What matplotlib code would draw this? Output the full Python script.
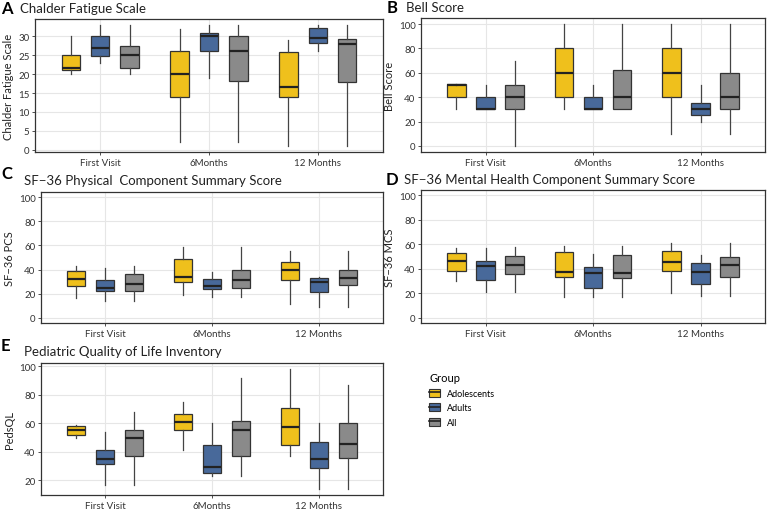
import matplotlib
matplotlib.use("Agg")
import matplotlib.pyplot as plt
from matplotlib.patches import Patch
from matplotlib.lines import Line2D
from matplotlib.legend_handler import HandlerTuple

plt.rcParams['font.family'] = ['Lato', 'DejaVu Sans']

VISITS = ["First Visit", "6Months", "12 Months"]
GROUPS = ["Adolescents", "Adults", "All"]
COLORS = ["#EFC01C", "#48699A", "#8A8A8A"]

# each stat: [group][visit]
A_LO = [[20, 2, 1], [23, 19, 26], [20, 2, 1]]
A_Q1 = [[21, 14, 14], [24.7, 26, 28.2], [21.7, 18.2, 17.8]]
A_MED = [[21.5, 20, 16.5], [27, 30, 29.5], [25, 26, 28]]
A_Q3 = [[25, 26, 25.8], [30, 31, 32.3], [27.5, 30, 29.3]]
A_HI = [[30, 32, 29], [33, 33, 33], [33, 33, 33]]

B_LO = [[30, 30, 10], [30, 30, 20], [0, 30, 10]]
B_Q1 = [[40, 40, 40], [30, 30, 25], [30, 30, 30]]
B_MED = [[50, 60, 60], [30, 30, 30], [40, 40, 40]]
B_Q3 = [[50.5, 80, 80], [40, 40, 35], [50, 62.5, 60]]
B_HI = [[50, 100, 100], [50, 50, 50], [70, 100, 100]]

C_LO = [[16, 19, 11], [14, 17, 9], [14, 17, 9]]
C_Q1 = [[26, 30, 31.5], [22, 24, 21], [22, 25, 27]]
C_MED = [[32, 34, 39.5], [24.5, 26.5, 29.5], [28, 31.5, 33]]
C_Q3 = [[38.5, 49, 46], [31, 32, 33], [36, 39.5, 39.5]]
C_HI = [[43, 59, 55], [41, 38, 34], [43, 59, 55]]

D_LO = [[30, 17, 20], [21, 17, 18], [21, 17, 18]]
D_Q1 = [[38.5, 33.5, 38.5], [31, 24.5, 27.5], [36, 32, 33.5]]
D_MED = [[46, 37, 45.5], [42, 36.5, 37], [43, 36.5, 43]]
D_Q3 = [[52.5, 54, 54.5], [46, 41.5, 45], [50.5, 51, 50]]
D_HI = [[57, 59, 61], [57, 52, 51], [58, 59, 61]]

E_LO = [[50, 41, 37], [17, 23, 14], [17, 23, 14]]
E_Q1 = [[52, 55, 45], [31.5, 25, 29], [37, 37, 36]]
E_MED = [[55.5, 61, 57.5], [35, 29.5, 35], [50, 55, 45.5]]
E_Q3 = [[58, 66.5, 70.5], [41, 44.5, 47], [55.5, 61.5, 60.5]]
E_HI = [[58.5, 75, 98], [54, 60, 60], [68, 92, 87]]

W, H = 770, 510
fig = plt.figure(figsize=(7.7, 5.1), dpi=100)


def add_ax(l, t, r, b):
    return fig.add_axes([l / W, 1 - b / H, (r - l) / W, (b - t) / H])


def panel(ax, lo, q1, med, q3, hi, ylim, yticks, ylabel):
    for g in range(3):
        stats = []
        for v in range(3):
            stats.append(dict(whislo=lo[g][v], q1=q1[g][v], med=med[g][v],
                              q3=q3[g][v], whishi=hi[g][v], fliers=[]))
        pos = [v + 1 + (g - 1) * 0.27 for v in range(3)]
        ax.bxp(stats, positions=pos, widths=0.17, showcaps=False,
               showfliers=False, patch_artist=True,
               boxprops=dict(facecolor=COLORS[g], edgecolor="#333333", linewidth=0.9),
               medianprops=dict(color="#222222", linewidth=1.6),
               whiskerprops=dict(color="#444444", linewidth=0.9))
    ax.set_xlim(0.4, 3.6)
    ax.set_ylim(*ylim)
    ax.set_xticks([1, 2, 3])
    ax.set_xticklabels(VISITS)
    ax.set_yticks(yticks)
    ax.grid(True, color="#E6E6E6", linewidth=0.8)
    ax.set_axisbelow(True)
    ax.tick_params(labelsize=7, length=2.5, width=0.6, color="#333333",
                   labelcolor="#333333", pad=1.5)
    for s in ax.spines.values():
        s.set_color("#333333")
        s.set_linewidth(0.9)
    ax.set_ylabel(ylabel, fontsize=8, color="#222222", labelpad=3)


axA = add_ax(35, 20, 383, 153)
panel(axA, A_LO, A_Q1, A_MED, A_Q3, A_HI, (-0.6, 34.6), range(0, 31, 5),
      "Chalder Fatigue Scale")
axB = add_ax(421, 19, 765, 153)
panel(axB, B_LO, B_Q1, B_MED, B_Q3, B_HI, (-5, 105), range(0, 101, 20),
      "Bell Score")
axC = add_ax(41, 193, 383, 324)
panel(axC, C_LO, C_Q1, C_MED, C_Q3, C_HI, (-4.5, 104.5), range(0, 101, 20),
      "SF\u221236 PCS")
axD = add_ax(421, 191, 765, 324)
panel(axD, D_LO, D_Q1, D_MED, D_Q3, D_HI, (-4.5, 104.5), range(0, 101, 20),
      "SF\u221236 MCS")
axE = add_ax(41, 364, 383, 496)
panel(axE, E_LO, E_Q1, E_MED, E_Q3, E_HI, (9.8, 102.2), range(20, 101, 20),
      "PedsQL")


def label(x, y, letter, title, tx, ty):
    fig.text(x / W, 1 - y / H, letter, fontsize=12, fontweight="bold",
             va="center", ha="left")
    if title:
        fig.text(tx / W, 1 - ty / H, title, fontsize=9.5, va="center",
                 ha="left", color="#222222")


label(1, 9, "A", "Chalder Fatigue Scale", 20, 9)
label(387, 8, "B", "Bell Score", 406, 8)
label(1, 174, "C", "SF\u221236 Physical  Component Summary Score", 24, 181)
label(386, 180, "D", "SF\u221236 Mental Health Component Summary Score", 404, 180)
label(1, 346, "E", "Pediatric Quality of Life Inventory", 24, 352)

handles = [(Patch(facecolor=c, edgecolor="#333333", linewidth=0.8),
            Line2D([], [], color="#222222", linewidth=1.2)) for c in COLORS]
leg = fig.legend(handles, GROUPS, title="Group", loc="upper left",
                 bbox_to_anchor=(421 / W, 1 - 365 / H), frameon=False,
                 fontsize=6.5, title_fontsize=8, handlelength=1.2,
                 handleheight=1.0, labelspacing=0.6, handletextpad=0.8,
                 handler_map={tuple: HandlerTuple(ndivide=1, pad=0)})
leg._legend_box.align = "left"

fig.savefig("out.png", dpi=100)
